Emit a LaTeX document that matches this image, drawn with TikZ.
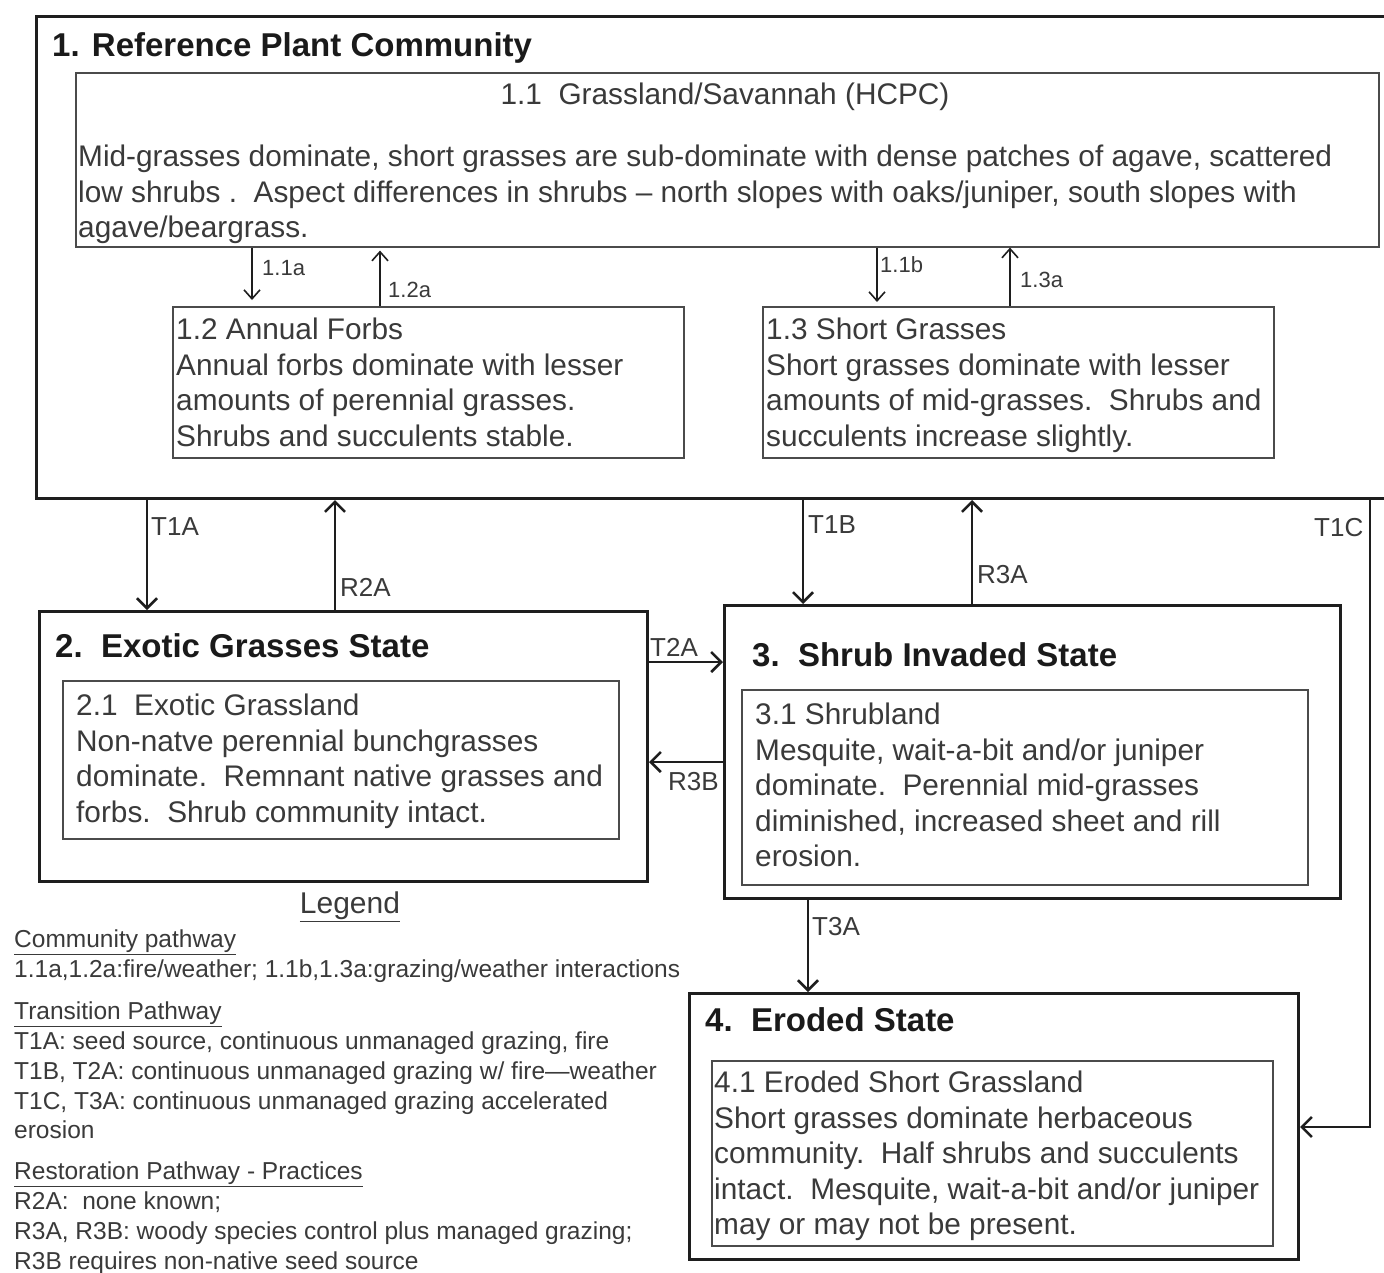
\documentclass[tikz,border=0pt]{standalone}
\usepackage{fontspec}
\setmainfont{Liberation Sans}
\usetikzlibrary{arrows.meta}
\definecolor{linec}{HTML}{1E1E1E}
\definecolor{textc}{HTML}{3A3A3A}
\definecolor{titlec}{HTML}{1A1A1A}
\begin{document}
\begin{tikzpicture}[x=1pt,y=-1pt,
  statebox/.style={draw=linec, line width=3pt, anchor=north west, inner sep=0pt},
  innerbox/.style={draw=linec!80, line width=1.6pt, anchor=north west, inner sep=0pt},
  bodytext/.style={font=\fontsize{29.8}{35.5}\selectfont, text=textc, align=left, inner sep=0pt, anchor=north west},
  statetitle/.style={font=\fontsize{33}{38}\selectfont\bfseries, text=titlec, inner sep=0pt, anchor=west},
  biglabel/.style={font=\fontsize{26}{30}\selectfont, text=textc, inner sep=0pt, anchor=west},
  smalllabel/.style={font=\fontsize{22}{26}\selectfont, text=textc, inner sep=0pt, anchor=west},
  legendtext/.style={font=\fontsize{24.5}{29.7}\selectfont, text=textc, align=left, inner sep=0pt, anchor=north west},
  bigarrow/.style={draw=linec, line width=2.6pt, -{Straight Barb[length=10pt,width=20pt,line width=2.6pt]}},
  smallarrow/.style={draw=linec, line width=1.6pt, -{Straight Barb[length=9pt,width=16pt,line width=1.6pt]}}
]
\useasboundingbox (0,0) rectangle (1384,1272);
\fill[white] (0,0) rectangle (1384,1272);

% state boxes
\node[statebox, minimum width=1355pt, minimum height=482pt] (s1) at (35,15) {};
\node[innerbox, minimum width=1303pt, minimum height=174pt] (b11) at (75,72) {};
\node[innerbox, minimum width=511pt, minimum height=151pt] (b12) at (172,306) {};
\node[innerbox, minimum width=511pt, minimum height=151pt] (b13) at (762,306) {};
\node[statebox, minimum width=608pt, minimum height=270pt] (s2) at (38,610) {};
\node[innerbox, minimum width=556pt, minimum height=158pt] (b21) at (62,680) {};
\node[statebox, minimum width=616pt, minimum height=293pt] (s3) at (723,604) {};
\node[innerbox, minimum width=566pt, minimum height=195pt] (b31) at (741,689) {};
\node[statebox, minimum width=609pt, minimum height=266pt] (s4) at (688,992) {};
\node[innerbox, minimum width=561pt, minimum height=185pt] (b41) at (711,1060) {};

% titles
\node[statetitle] (t1) at (52,48) {1. Reference Plant Community};
\node[font=\fontsize{29.8}{35}\selectfont, text=textc, inner sep=0pt] (t11) at (725,97) {1.1\ \ Grassland/Savannah (HCPC)};
\node[statetitle] (t2) at (55,646) {2.\ \ Exotic Grasses State};
\node[statetitle] (t3) at (752,655) {3.\ \ Shrub Invaded State};
\node[statetitle] (t4) at (705,1020) {4.\ \ Eroded State};

% body texts
\node[bodytext] (x11) at (78,145) {Mid-grasses dominate, short grasses are sub-dominate with dense patches of agave, scattered\\
low shrubs .\ \ Aspect differences in shrubs -- north slopes with oaks/juniper, south slopes with\\
agave/beargrass.};
\node[bodytext] (x12) at (176,318) {1.2 Annual Forbs\\
Annual forbs dominate with lesser\\
amounts of perennial grasses.\\
Shrubs and succulents stable.};
\node[bodytext] (x13) at (766,318) {1.3 Short Grasses\\
Short grasses dominate with lesser\\
amounts of mid-grasses.\ \ Shrubs and\\
succulents increase slightly.};
\node[bodytext] (x21) at (76,694) {2.1\ \ Exotic Grassland\\
Non-natve perennial bunchgrasses\\
dominate.\ \ Remnant native grasses and\\
forbs.\ \ Shrub community intact.};
\node[bodytext] (x31) at (755,703) {3.1 Shrubland\\
Mesquite, wait-a-bit and/or juniper\\
dominate.\ \ Perennial mid-grasses\\
diminished, increased sheet and rill\\
erosion.};
\node[bodytext] (x41) at (714,1071) {4.1 Eroded Short Grassland\\
Short grasses dominate herbaceous\\
community.\ \ Half shrubs and succulents\\
intact.\ \ Mesquite, wait-a-bit and/or juniper\\
may or may not be present.};

% connector positions
\coordinate (p11a) at (252,0);
\coordinate (p12a) at (380,0);
\coordinate (p11b) at (877,0);
\coordinate (p13a) at (1010,0);
\coordinate (pT1A) at (147,0);
\coordinate (pR2A) at (335,0);
\coordinate (pT1B) at (803,0);
\coordinate (pR3A) at (972,0);
\coordinate (pT2A) at (0,662);
\coordinate (pR3B) at (0,762);
\coordinate (pT3A) at (808,0);
\coordinate (pT1C) at (1370,1127);

% community pathways
\draw[smallarrow, shorten >=6pt] (p11a |- b11.south) -- (p11a |- b12.north);
\draw[smallarrow, shorten >=3pt] (p12a |- b12.north) -- (p12a |- b11.south);
\draw[smallarrow, shorten >=4pt] (p11b |- b11.south) -- (p11b |- b13.north);
\draw[smallarrow] (p13a |- b13.north) -- (p13a |- b11.south);

% transitions
\draw[bigarrow] (pT1A |- s1.south) -- (pT1A |- s2.north);
\draw[bigarrow] (pR2A |- s2.north) -- (pR2A |- s1.south);
\draw[bigarrow] (pT1B |- s1.south) -- (pT1B |- s3.north);
\draw[bigarrow] (pR3A |- s3.north) -- (pR3A |- s1.south);
\draw[bigarrow] (s2.east |- pT2A) -- (s3.west |- pT2A);
\draw[bigarrow] (s3.west |- pR3B) -- (s2.east |- pR3B);
\draw[bigarrow] (pT3A |- s3.south) -- (pT3A |- s4.north);
\draw[bigarrow] (pT1C |- s1.south) -- (pT1C) -- (pT1C -| s4.east);

% labels
\node[smalllabel] (l11a) at (262,268) {1.1a};
\node[smalllabel] (l12a) at (388,290) {1.2a};
\node[smalllabel] (l11b) at (880,265) {1.1b};
\node[smalllabel] (l13a) at (1020,280) {1.3a};
\node[biglabel] (lT1A) at (151,527) {T1A};
\node[biglabel] (lR2A) at (340,587) {R2A};
\node[biglabel] (lT1B) at (808,525) {T1B};
\node[biglabel] (lR3A) at (977,575) {R3A};
\node[biglabel] (lT1C) at (1314,528) {T1C};
\node[biglabel] (lT2A) at (650,647) {T2A};
\node[biglabel] (lR3B) at (668,782) {R3B};
\node[biglabel] (lT3A) at (812,927) {T3A};

% legend
\node[font=\fontsize{30}{34}\selectfont, text=textc, inner sep=0pt] (leg) at (350,907) {\underline{Legend}};
\node[legendtext] (leg1) at (14,930) {\underline{Community pathway}\\
1.1a,1.2a:fire/weather; 1.1b,1.3a:grazing/weather interactions};
\node[legendtext] (leg2) at (14,1002) {\underline{Transition Pathway}\\
T1A: seed source, continuous unmanaged grazing, fire\\
T1B, T2A: continuous unmanaged grazing w/ fire---weather\\
T1C, T3A: continuous unmanaged grazing accelerated\\
erosion};
\node[legendtext] (leg3) at (14,1162) {\underline{Restoration Pathway - Practices}\\
R2A:\ \ none known;\\
R3A, R3B: woody species control plus managed grazing;\\
R3B requires non-native seed source};
\end{tikzpicture}
\end{document}
